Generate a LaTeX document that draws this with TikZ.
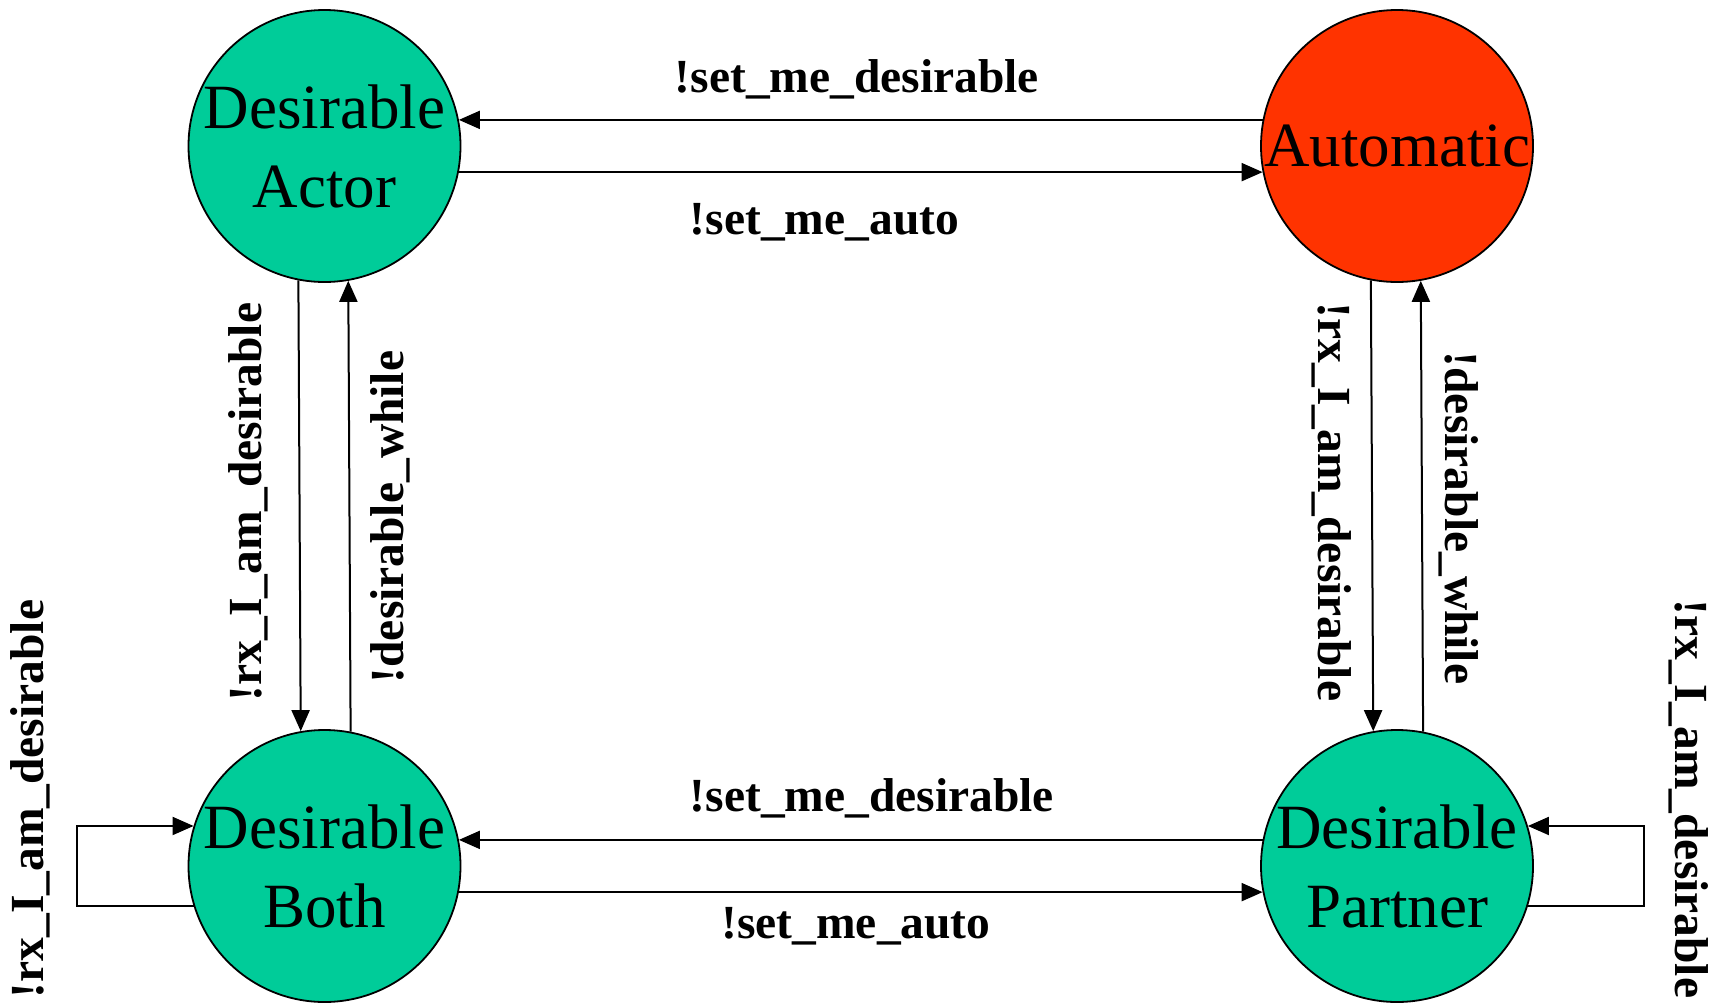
\documentclass[tikz,border=0pt]{standalone}
\usepackage{fontspec}
\setmainfont{Liberation Serif}
\usetikzlibrary{arrows.meta}
\definecolor{stategreen}{HTML}{00CC99}
\definecolor{statered}{HTML}{FF3300}
\begin{document}
\begin{tikzpicture}[x=1pt,y=-1pt,
  state/.style={circle,draw=black,line width=1.8pt,minimum size=272pt,inner sep=0pt,
    align=center,font=\fontsize{63}{79}\selectfont},
  trans/.style={line width=2pt,-{Triangle[length=21pt,width=18pt]}},
  lbl/.style={inner sep=0pt,font=\fontsize{47.5}{56}\selectfont\bfseries}]
\useasboundingbox (0,0) rectangle (1719,1002);
\begin{scope}
\clip (0,0) rectangle (1719,1002);
% states
\node[state,fill=stategreen] (actor) at (324.5,146) {Desirable\\Actor};
\node[state,fill=statered] (auto) at (1397,146) {Automatic};
\node[state,fill=stategreen] (both) at (324.5,866) {Desirable\\Both};
\node[state,fill=stategreen] (partner) at (1397,866) {Desirable\\Partner};
\end{scope}
% top pair
\draw[trans] (auto.169) -- (actor.11);
\draw[trans] (actor.-11) -- (auto.191);
% bottom pair
\draw[trans] (partner.169) -- (both.11);
\draw[trans] (both.-11) -- (partner.191);
% left vertical pair
\draw[trans] (actor.259.2) -- (both.100.8);
\draw[trans] (both.79.6) -- (actor.280.4);
% right vertical pair
\draw[trans] (auto.259.2) -- (partner.100.8);
\draw[trans] (partner.79.8) -- (auto.280.2);
% self loops
\coordinate (lloop) at (77,866);
\coordinate (rloop) at (1644,866);
\draw[trans] (both.197) -- (both.197 -| lloop) -- (both.163 -| lloop) -- (both.163);
\draw[trans] (partner.-17) -- (partner.-17 -| rloop) -- (partner.17 -| rloop) -- (partner.17);
% transition labels
\node[lbl] (l1) at (857,79) {!set\_me\_desirable};
\node[lbl] (l2) at (824.5,222) {!set\_me\_auto};
\node[lbl] (l3) at (872,798) {!set\_me\_desirable};
\node[lbl] (l4) at (856,926) {!set\_me\_auto};
\node[lbl,rotate=90] (l5) at (248,502) {!rx\_I\_am\_desirable};
\node[lbl,rotate=90] (l6) at (390,517) {!desirable\_while};
\node[lbl,rotate=-90] (l7) at (1332,502) {!rx\_I\_am\_desirable};
\node[lbl,rotate=-90] (l8) at (1459,518) {!desirable\_while};
\node[lbl,rotate=90] (l9) at (30,799) {!rx\_I\_am\_desirable};
\node[lbl,rotate=-90] (l10) at (1689,799) {!rx\_I\_am\_desirable};
\end{tikzpicture}
\end{document}
